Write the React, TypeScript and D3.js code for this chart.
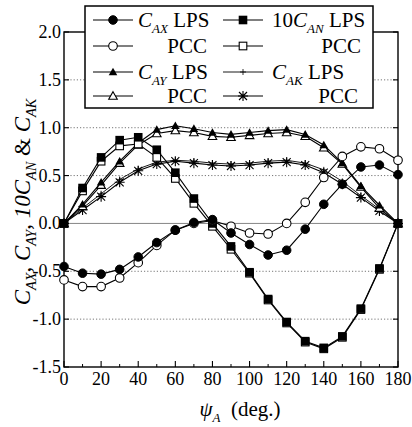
import React from "react";
import * as d3 from "d3";

const angles = [0, 10, 20, 30, 40, 50, 60, 70, 80, 90, 100, 110, 120, 130, 140, 150, 160, 170, 180];
const cAxLps = [-0.45, -0.52, -0.53, -0.48, -0.35, -0.2, -0.07, 0.01, 0.04, -0.1, -0.22, -0.33, -0.28, -0.06, 0.2, 0.41, 0.59, 0.61, 0.51];
const cAxPcc = [-0.59, -0.66, -0.66, -0.57, -0.41, -0.23, -0.07, 0.0, 0.03, -0.03, -0.1, -0.11, 0.0, 0.22, 0.48, 0.7, 0.8, 0.78, 0.66];
const cAnLps = [0, 0.37, 0.69, 0.87, 0.9, 0.77, 0.53, 0.26, 0.0, -0.24, -0.51, -0.79, -1.03, -1.23, -1.3, -1.18, -0.89, -0.47, 0];
const cAnPcc = [0, 0.34, 0.65, 0.81, 0.83, 0.69, 0.47, 0.21, -0.03, -0.27, -0.52, -0.8, -1.04, -1.24, -1.31, -1.19, -0.9, -0.48, 0];
const cAyLps = [0, 0.2, 0.43, 0.65, 0.84, 0.98, 1.02, 0.99, 0.95, 0.93, 0.95, 0.97, 0.98, 0.93, 0.82, 0.63, 0.39, 0.19, 0];
const cAyPcc = [0, 0.18, 0.4, 0.63, 0.82, 0.94, 0.97, 0.95, 0.91, 0.9, 0.92, 0.94, 0.95, 0.91, 0.79, 0.62, 0.38, 0.16, 0];
const cAkLps = [0, 0.16, 0.31, 0.46, 0.57, 0.64, 0.66, 0.65, 0.63, 0.62, 0.63, 0.65, 0.66, 0.63, 0.56, 0.44, 0.29, 0.15, 0];
const cAkPcc = [0, 0.14, 0.28, 0.43, 0.55, 0.62, 0.65, 0.63, 0.61, 0.6, 0.61, 0.63, 0.64, 0.61, 0.53, 0.41, 0.27, 0.13, 0];

const xTicks = [0, 20, 40, 60, 80, 100, 120, 140, 160, 180];
const yTicks = [-1.5, -1.0, -0.5, 0.0, 0.5, 1.0, 1.5, 2.0];

const FONT = "Liberation Serif";

type MarkerKind = "circleFilled" | "circleOpen" | "squareFilled" | "squareOpen" | "triFilled" | "triOpen" | "plus" | "star";

function Marker({ kind, x, y }: { kind: MarkerKind; x: number; y: number }) {
  const r = 4.3;
  switch (kind) {
    case "circleFilled":
      return <circle cx={x} cy={y} r={r} fill="#000" stroke="#000" strokeWidth={1} />;
    case "circleOpen":
      return <circle cx={x} cy={y} r={r} fill="#fff" stroke="#000" strokeWidth={1.1} />;
    case "squareFilled":
      return <rect x={x - r} y={y - r} width={2 * r} height={2 * r} fill="#000" />;
    case "squareOpen":
      return <rect x={x - r + 0.5} y={y - r + 0.5} width={2 * r - 1} height={2 * r - 1} fill="#fff" stroke="#000" strokeWidth={1.1} />;
    case "triFilled":
      return <path d={`M${x},${y - r}L${x + r},${y + r * 0.75}L${x - r},${y + r * 0.75}Z`} fill="#000" />;
    case "triOpen":
      return <path d={`M${x},${y - r}L${x + r},${y + r * 0.75}L${x - r},${y + r * 0.75}Z`} fill="#fff" stroke="#000" strokeWidth={1.1} />;
    case "plus":
      return <path d={`M${x - 3},${y}H${x + 3}M${x},${y - 3}V${y + 3}`} stroke="#000" strokeWidth={0.8} />;
    case "star":
      return (
        <path
          d={`M${x - 4},${y - 4}L${x + 4},${y + 4}M${x - 4},${y + 4}L${x + 4},${y - 4}M${x},${y - 5}V${y + 5}M${x - 5},${y}H${x + 5}`}
          stroke="#000"
          strokeWidth={1.1}
        />
      );
  }
}

interface Series {
  values: number[];
  kind: MarkerKind;
  width: number;
}

const seriesList: Series[] = [
  { values: cAkLps, kind: "plus", width: 0.9 },
  { values: cAkPcc, kind: "star", width: 1.1 },
  { values: cAyPcc, kind: "triOpen", width: 1.1 },
  { values: cAyLps, kind: "triFilled", width: 1.1 },
  { values: cAnPcc, kind: "squareOpen", width: 1.1 },
  { values: cAnLps, kind: "squareFilled", width: 1.1 },
  { values: cAxPcc, kind: "circleOpen", width: 1.1 },
  { values: cAxLps, kind: "circleFilled", width: 1.1 },
];

// segment: [text, style] where style: n = normal, i = italic, s = italic subscript
type Seg = [string, "n" | "i" | "s"];

function Rich({ segs, size }: { segs: Seg[]; size: number }) {
  const subDy = size * 0.28;
  let cur = 0;
  return (
    <>
      {segs.map(([t, st], i) => {
        const target = st === "s" ? subDy : 0;
        const dy = target - cur;
        cur = target;
        return (
          <tspan
            key={i}
            dy={dy}
            fontStyle={st === "n" ? "normal" : "italic"}
            fontSize={st === "s" ? size * 0.62 : size}
            style={{ whiteSpace: "pre" }}
          >
            {t}
          </tspan>
        );
      })}
    </>
  );
}

export default function App() {
  const W = 412;
  const H = 427;
  const x = d3.scaleLinear().domain([0, 180]).range([64, 398]);
  const y = d3.scaleLinear().domain([-1.5, 2]).range([367, 32]);
  const line = d3
    .line<number>()
    .x((_, i) => x(angles[i]))
    .y((d) => y(d));

  const minorX = d3.range(10, 180, 20);

  const lgX0 = 85, lgY0 = 6, lgX1 = 373, lgY1 = 108;
  const rows = [20, 46, 72, 96];
  const c1 = { l0: 93, l1: 133, m: 113 };
  const c2 = { l0: 223, l1: 263, m: 243 };

  const legendItems: { col: typeof c1; row: number; kind: MarkerKind; lw: number }[] = [
    { col: c1, row: 0, kind: "circleFilled", lw: 1.1 },
    { col: c1, row: 1, kind: "circleOpen", lw: 1.1 },
    { col: c1, row: 2, kind: "triFilled", lw: 1.1 },
    { col: c1, row: 3, kind: "triOpen", lw: 1.1 },
    { col: c2, row: 0, kind: "squareFilled", lw: 1.1 },
    { col: c2, row: 1, kind: "squareOpen", lw: 1.1 },
    { col: c2, row: 2, kind: "plus", lw: 0.9 },
    { col: c2, row: 3, kind: "star", lw: 1.1 },
  ];

  const LS = 21;

  return (
    <svg width={W} height={H} style={{ position: "absolute", left: 0, top: 0, background: "#fff" }}>
      <style>{`text, tspan { font-family: "Liberation Serif", "Times New Roman", Tinos, Times, serif; }`}</style>
      <rect x={0} y={0} width={W} height={H} fill="#fff" />
      {yTicks
        .filter((t) => t > -1.5 && t < 2)
        .map((t) => (
          <line
            key={"g" + t}
            x1={x(0)}
            x2={x(180)}
            y1={y(t)}
            y2={y(t)}
            stroke="#666"
            strokeWidth={t === 0 ? 0.8 : 0.9}
            strokeDasharray={t === 0 ? undefined : "1.2,2"}
          />
        ))}
      <rect x={x(0)} y={y(2)} width={x(180) - x(0)} height={y(-1.5) - y(2)} fill="none" stroke="#000" strokeWidth={1.4} />
      {yTicks.map((t) => (
        <g key={"yt" + t}>
          <line x1={x(0)} x2={x(0) + 5} y1={y(t)} y2={y(t)} stroke="#000" strokeWidth={1.1} />
          <line x1={x(180)} x2={x(180) - 5} y1={y(t)} y2={y(t)} stroke="#000" strokeWidth={1.1} />
          <text fontFamily={FONT} x={x(0) - 3} y={y(t) + 6} textAnchor="end" fontSize={18}>
            {t.toFixed(1)}
          </text>
        </g>
      ))}
      {xTicks.map((t) => (
        <g key={"xt" + t}>
          <line x1={x(t)} x2={x(t)} y1={y(-1.5)} y2={y(-1.5) - 6} stroke="#000" strokeWidth={1.1} />
          <text fontFamily={FONT} x={x(t)} y={y(-1.5) + 18} textAnchor="middle" fontSize={18}>
            {t}
          </text>
        </g>
      ))}
      {minorX.map((t) => (
        <line key={"mx" + t} x1={x(t)} x2={x(t)} y1={y(-1.5)} y2={y(-1.5) - 3} stroke="#000" strokeWidth={1} />
      ))}
      {seriesList.map((s, si) => (
        <g key={"s" + si}>
          <path d={line(s.values) || ""} fill="none" stroke="#000" strokeWidth={s.width} />
          {s.values.map((v, i) => (
            <Marker key={i} kind={s.kind} x={x(angles[i])} y={y(v)} />
          ))}
        </g>
      ))}
      <rect x={lgX0} y={lgY0} width={lgX1 - lgX0} height={lgY1 - lgY0} fill="#fff" stroke="#000" strokeWidth={1.5} />
      {legendItems.map((it, i) => (
        <g key={"lg" + i}>
          <line x1={it.col.l0} x2={it.col.l1} y1={rows[it.row]} y2={rows[it.row]} stroke="#000" strokeWidth={it.lw} />
          <Marker kind={it.kind} x={it.col.m} y={rows[it.row]} />
        </g>
      ))}
      <text fontFamily={FONT} x={138} y={rows[0] + 7} fontSize={LS}>
        <Rich size={LS} segs={[["C", "i"], ["AX", "s"], [" LPS", "n"]]} />
      </text>
      <text fontFamily={FONT} x={207} y={rows[1] + 7} textAnchor="end" fontSize={LS}>PCC</text>
      <text fontFamily={FONT} x={138} y={rows[2] + 7} fontSize={LS}>
        <Rich size={LS} segs={[["C", "i"], ["AY", "s"], [" LPS", "n"]]} />
      </text>
      <text fontFamily={FONT} x={207} y={rows[3] + 7} textAnchor="end" fontSize={LS}>PCC</text>
      <text fontFamily={FONT} x={272} y={rows[0] + 7} fontSize={LS}>
        <Rich size={LS} segs={[["10", "n"], ["C", "i"], ["AN", "s"], [" LPS", "n"]]} />
      </text>
      <text fontFamily={FONT} x={361} y={rows[1] + 7} textAnchor="end" fontSize={LS}>PCC</text>
      <text fontFamily={FONT} x={272} y={rows[2] + 7} fontSize={LS}>
        <Rich size={LS} segs={[["C", "i"], ["AK", "s"], [" LPS", "n"]]} />
      </text>
      <text fontFamily={FONT} x={358} y={rows[3] + 7} textAnchor="end" fontSize={LS}>PCC</text>
      <text fontFamily={FONT} x={240} y={416} textAnchor="middle" fontSize={LS}>
        <Rich size={LS} segs={[["\u03C8", "i"], ["A", "s"], ["  (deg.)", "n"]]} />
      </text>
      <text fontFamily={FONT} transform={`translate(30,202) rotate(-90)`} textAnchor="middle" fontSize={23}>
        <Rich
          size={23}
          segs={[
            ["C", "i"],
            ["AX", "s"],
            [", ", "n"],
            ["C", "i"],
            ["AY", "s"],
            [", ", "n"],
            ["10C", "i"],
            ["AN", "s"],
            [" & ", "n"],
            ["C", "i"],
            ["AK", "s"],
          ]}
        />
      </text>
    </svg>
  );
}
